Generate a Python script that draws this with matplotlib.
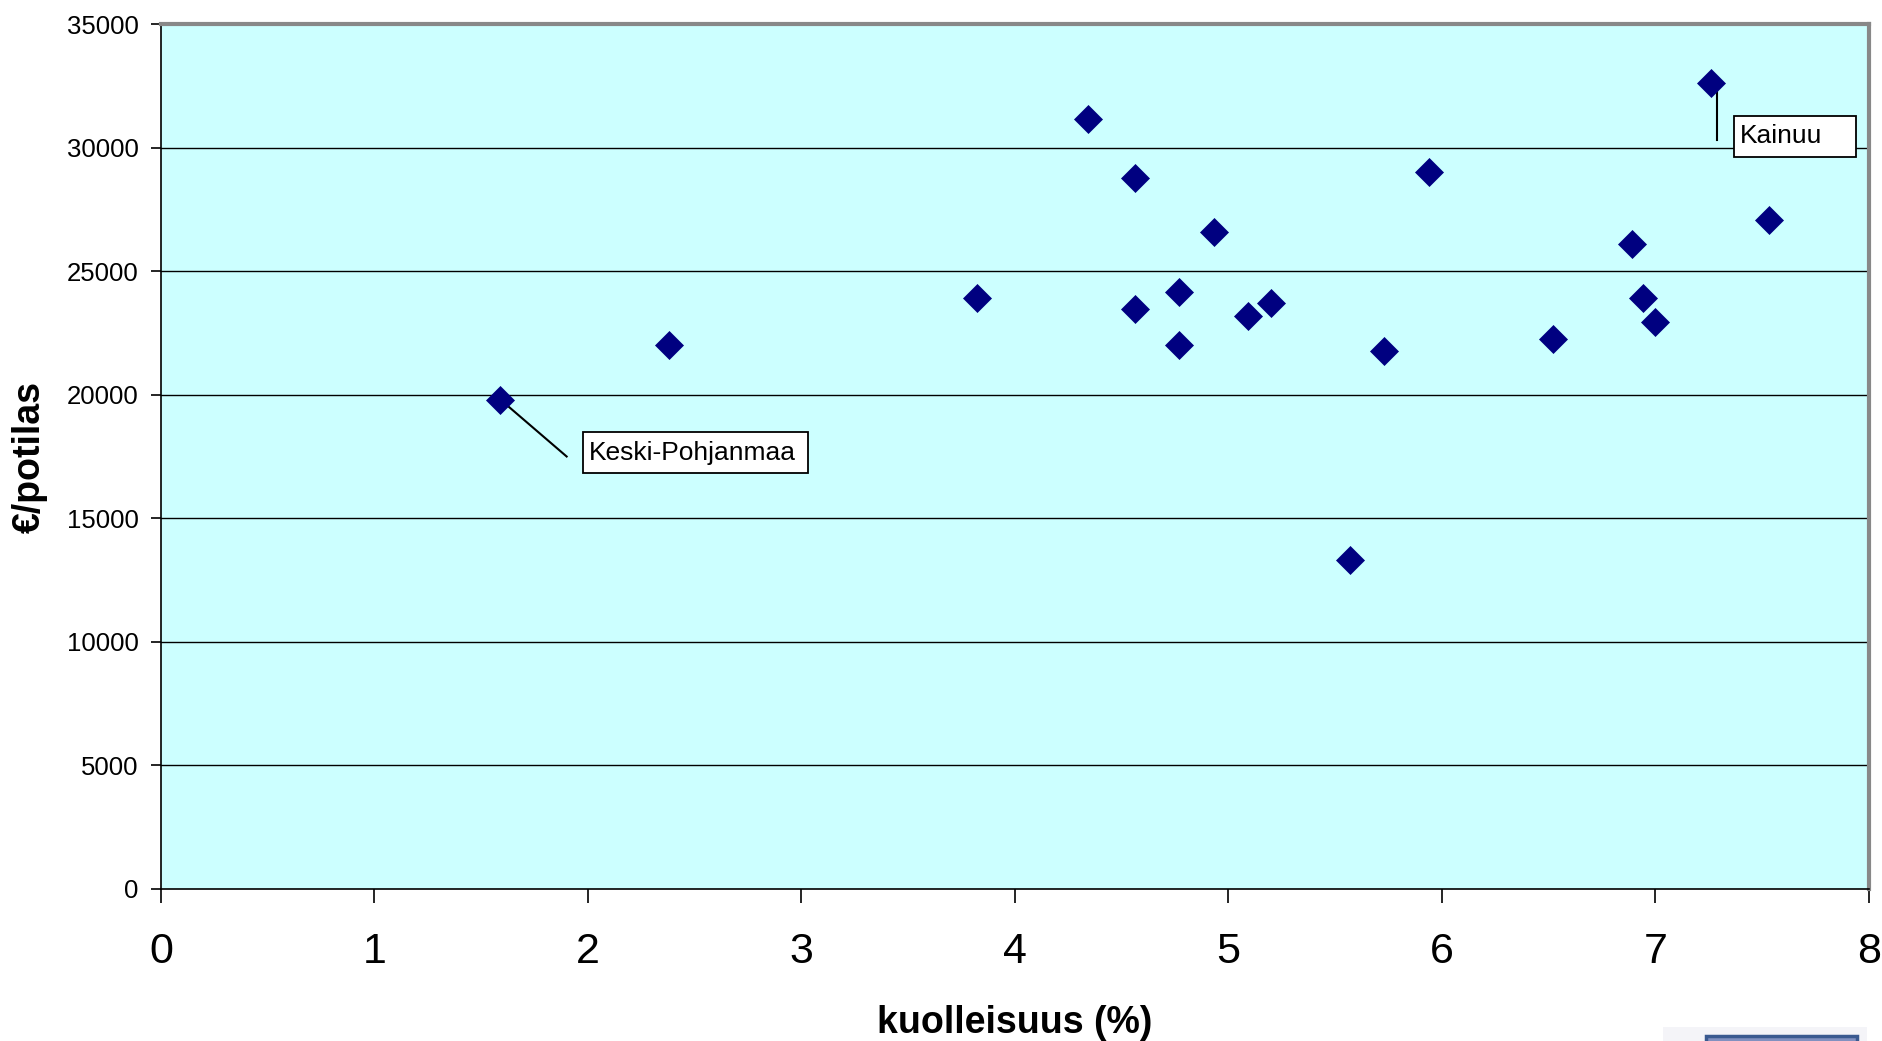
#!/usr/bin/env python3
# -*- coding: utf-8 -*-
"""Cost per patient vs. mortality, scatter with two labelled regions."""

import matplotlib
matplotlib.use("Agg")
import matplotlib.pyplot as plt
from matplotlib.patches import Rectangle

# Data
kuolleisuus = [1.59, 2.38, 3.82, 4.34, 4.56, 4.56, 4.77, 4.77, 4.93, 5.09,
               5.20, 5.57, 5.73, 5.94, 6.52, 6.89, 6.94, 7.00, 7.26, 7.53]
eur_potilas = [19800, 22000, 23900, 31150, 28750, 23450, 24150, 22000, 26600, 23200,
               23700, 13300, 21750, 29000, 22250, 26100, 23900, 22950, 32600, 27050]

# Labelled points: (name, index, label box x0, x1, y0, y1, leader end)
labels = [("Keski-Pohjanmaa", 0, (1.977, 3.030, 16830, 18490), (1.90, 17500)),
          ("Kainuu", 18, (7.368, 7.939, 29620, 31280), (7.29, 30300))]

x_ticks = [0, 1, 2, 3, 4, 5, 6, 7, 8]
y_ticks = [0, 5000, 10000, 15000, 20000, 25000, 30000, 35000]

plt.rcParams['font.family'] = ['Liberation Sans', 'DejaVu Sans']

fig = plt.figure(figsize=(18.83, 10.41), dpi=100)
ax = fig.add_axes([161 / 1883, 1 - 889 / 1041, (1869 - 161) / 1883, (889 - 24) / 1041])
ax.set_facecolor('#CCFFFF')

ax.set_xlim(0, 8)
ax.set_ylim(0, 35000)
ax.set_xticks(x_ticks)
ax.set_yticks(y_ticks)
ax.set_xticklabels([str(v) for v in x_ticks])
ax.set_yticklabels([str(v) for v in y_ticks])

for y in y_ticks[1:-1]:
    ax.axhline(y, color='black', linewidth=1.0, zorder=1)

ax.plot(kuolleisuus, eur_potilas, linestyle='none', marker='D', markersize=14.5,
        color='#000080', markeredgecolor='#000080', markeredgewidth=0.5, zorder=3)

for name, i, box, end in labels:
    px, py = kuolleisuus[i], eur_potilas[i]
    if name == "Kainuu":
        px = end[0]
    ax.plot([px, end[0]], [py, end[1]], color='black', linewidth=1.5, zorder=2)
    x0, x1, y0, y1 = box
    ax.add_patch(Rectangle((x0, y0), x1 - x0, y1 - y0, facecolor='white',
                           edgecolor='black', linewidth=1.3, zorder=4))
    ax.text(x0 + 0.025, (y0 + y1) / 2, name, fontsize=19, ha='left', va='center',
            zorder=5)

for side in ['top', 'right']:
    ax.spines[side].set_color('#888888')
    ax.spines[side].set_linewidth(3)
for side in ['left', 'bottom']:
    ax.spines[side].set_color('black')
    ax.spines[side].set_linewidth(1.2)

ax.tick_params(axis='y', direction='out', length=7, width=1.2, labelsize=18.5, pad=9)
ax.tick_params(axis='x', direction='out', length=10, width=1.2, labelsize=31, pad=21)

ax.set_xlabel('kuolleisuus (%)', fontsize=27, fontweight='bold', labelpad=24)
ax.set_ylabel('€/potilas', fontsize=27, fontweight='bold', labelpad=14)

# partially visible picture in the bottom right corner
fig.patches.append(Rectangle((1663 / 1883, 0), (1867 - 1663) / 1883, 14 / 1041,
                             transform=fig.transFigure, facecolor='#F4F4F8',
                             edgecolor='none'))
fig.patches.append(Rectangle((1706 / 1883, -0.01), (1857 - 1706) / 1883, 15 / 1041,
                             transform=fig.transFigure, facecolor='#8190C0',
                             edgecolor='#3A5A90', linewidth=2.5))

fig.savefig('out.png', dpi=100)
